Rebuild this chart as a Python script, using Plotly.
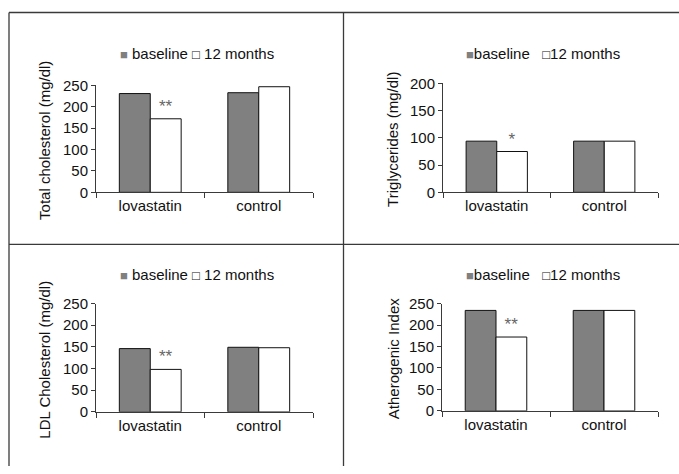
import plotly.graph_objects as go

W, H = 679, 474

categories = ["lovastatin", "control"]
series_names = ["baseline", "12 months"]

total_chol_baseline = [231, 233]
total_chol_12m = [172, 247]
trig_baseline = [94, 94]
trig_12m = [75, 94]
ldl_baseline = [146, 149]
ldl_12m = [98, 148]
athero_baseline = [234, 234]
athero_12m = [172, 234]

sig_total = ["**", ""]
sig_trig = ["*", ""]
sig_ldl = ["**", ""]
sig_athero = ["**", ""]

y_titles = ["Total cholesterol (mg/dl)", "Triglycerides (mg/dl)",
            "LDL Cholesterol (mg/dl)", "Atherogenic Index"]
y_ranges = [250, 200, 250, 250]
y_dtick = 50

FONT = "Liberation Sans, Arial, sans-serif"
FS = 15
GRAY = "#808080"
LINE = "#3a3a3a"

# the photographed page shows a small vertical offset/scale; compensate it
S_COMP, P_COMP = 0.965, 8.8


def py(v):
    d = v / S_COMP - P_COMP
    d = min(max(d, 0), H)
    return 1 - d / H


panels = [
    (total_chol_baseline, total_chol_12m, sig_total),
    (trig_baseline, trig_12m, sig_trig),
    (ldl_baseline, ldl_12m, sig_ldl),
    (athero_baseline, athero_12m, sig_athero),
]

# pixel geometry of each plot area: (x0, x1, ybottom, ytop)
geo = [
    (96, 313, 192, 85),
    (443, 658, 192, 83),
    (96, 313, 411.7, 303.3),
    (442, 658, 410.7, 303.3),
]

fig = go.Figure()
for i, (b, m, sig) in enumerate(panels):
    n = "" if i == 0 else str(i + 1)
    fig.add_trace(go.Bar(x=categories, y=b, name=series_names[0],
                         marker=dict(color=GRAY, line=dict(color="#111", width=1)),
                         xaxis="x" + n, yaxis="y" + n, showlegend=False))
    fig.add_trace(go.Bar(x=categories, y=m, name=series_names[1],
                         marker=dict(color="white", line=dict(color="#111", width=1)),
                         text=sig, textposition="outside", cliponaxis=False,
                         textfont=dict(family=FONT, size=17, color="#666"),
                         xaxis="x" + n, yaxis="y" + n, showlegend=False))
    x0, x1, yb, yt = geo[i]
    axis_common = dict(showline=True, linecolor=LINE, linewidth=1, showgrid=False,
                       zeroline=False, ticks="outside", ticklen=4, tickcolor=LINE,
                       tickfont=dict(family=FONT, size=FS, color="#111"))
    fig.layout["xaxis" + n] = dict(axis_common, domain=[x0 / W, x1 / W],
                                   anchor="y" + n, tickson="boundaries", ticklen=5)
    fig.layout["yaxis" + n] = dict(axis_common, domain=[py(yb), py(yt)],
                                   anchor="x" + n, range=[0, y_ranges[i]],
                                   dtick=y_dtick, tick0=0)
    # y title
    cx = 45 if i % 2 == 0 else 393
    fig.add_annotation(text=y_titles[i], textangle=-90, xref="paper", yref="paper",
                       x=cx / W, y=py((yb + yt) / 2 + 2), showarrow=False,
                       xanchor="center", yanchor="middle",
                       font=dict(family=FONT, size=FS, color="#111"))
    # legend text
    ly = 53 if i < 2 else 274
    lx = 197 if i % 2 == 0 else 543
    sep = " " if i % 2 == 0 else ""
    gap = " " if i % 2 == 0 else "&nbsp;&nbsp;&nbsp;"
    leg = (f'<span style="color:{GRAY};font-size:13px">■</span>{sep}{series_names[0]}{gap}'
           f'<span style="font-size:13px">□</span>{sep}{series_names[1]}')
    fig.add_annotation(text=leg, xref="paper", yref="paper", x=lx / W, y=py(ly),
                       showarrow=False, xanchor="center", yanchor="middle",
                       font=dict(family=FONT, size=FS, color="#111"))

# frame lines
frame = [(9, 12, 679, 12), (9, 12, 9, 474), (343.5, 12, 343.5, 474), (9, 244, 679, 244)]
for xa, ya, xb, yb2 in frame:
    fig.add_shape(type="line", xref="paper", yref="paper",
                  x0=xa / W, y0=py(ya), x1=xb / W, y1=py(yb2),
                  line=dict(color=LINE, width=1.3))

fig.update_layout(width=W, height=H, margin=dict(l=0, r=0, t=0, b=0),
                  paper_bgcolor="white", plot_bgcolor="white",
                  barmode="group", bargap=0.43, bargroupgap=0,
                  font=dict(family=FONT, color="#111"))

fig.write_html("out.html",
               config={"displayModeBar": False},
               post_script="var d=document.getElementById('{plot_id}');"
                           "d.style.position='fixed';d.style.top='0';d.style.left='0';"
                           "document.body.style.margin='0';"
                           "document.body.style.padding='0';"
                           "document.documentElement.style.overflow='hidden';")
